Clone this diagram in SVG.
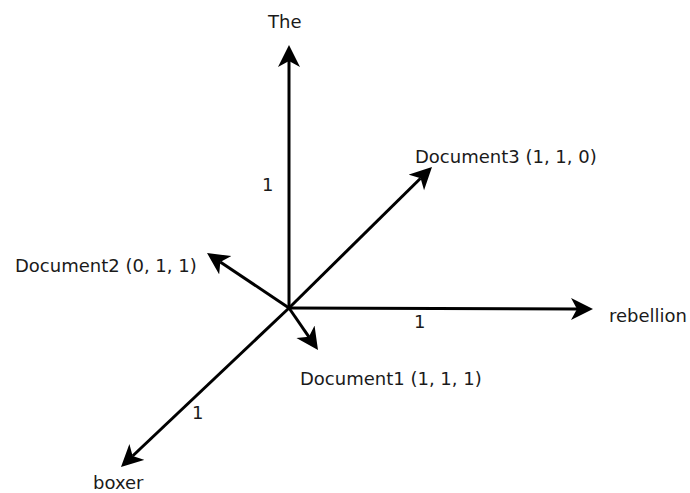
<svg xmlns="http://www.w3.org/2000/svg" width="690" height="493" viewBox="0 0 690 493">
<defs>
<style>
text{font-family:"DejaVu Sans","Liberation Sans",sans-serif;font-size:18px;fill:#1a1a1a}
.ax{stroke:#000;stroke-width:3;fill:none;marker-end:url(#arr)}
</style>
<marker id="arr" markerUnits="userSpaceOnUse" markerWidth="24" markerHeight="24" refX="6" refY="11" orient="auto">
<path d="M0,0 L22,11 L0,22 L6,11 Z" fill="#000"/>
</marker>
</defs>
<rect width="690" height="493" fill="#fff"/>
<g id="connectors">
<line class="ax" x1="289" y1="308" x2="289" y2="61"/>
<line class="ax" x1="289" y1="308" x2="577" y2="309"/>
<line class="ax" x1="289" y1="308" x2="420.6" y2="178.2"/>
<line class="ax" x1="289" y1="308" x2="220.3" y2="261.9"/>
<line class="ax" x1="289" y1="308" x2="308.9" y2="336.8"/>
<line class="ax" x1="289" y1="308" x2="132.6" y2="456"/>
</g>
<g id="the"><text x="268" y="28">The</text></g>
<g id="rebellion"><text x="609" y="322">rebellion</text></g>
<g id="boxer"><text x="93" y="489">boxer</text></g>
<g id="doc3"><text x="415" y="163">Document3 (1, 1, 0)</text></g>
<g id="doc2"><text x="15" y="272">Document2 (0, 1, 1)</text></g>
<g id="doc1"><text x="300" y="385">Document1 (1, 1, 1)</text></g>
<g id="labels">
<text x="262" y="191">1</text>
<text x="414" y="328">1</text>
<text x="192" y="419">1</text>
</g>
</svg>
